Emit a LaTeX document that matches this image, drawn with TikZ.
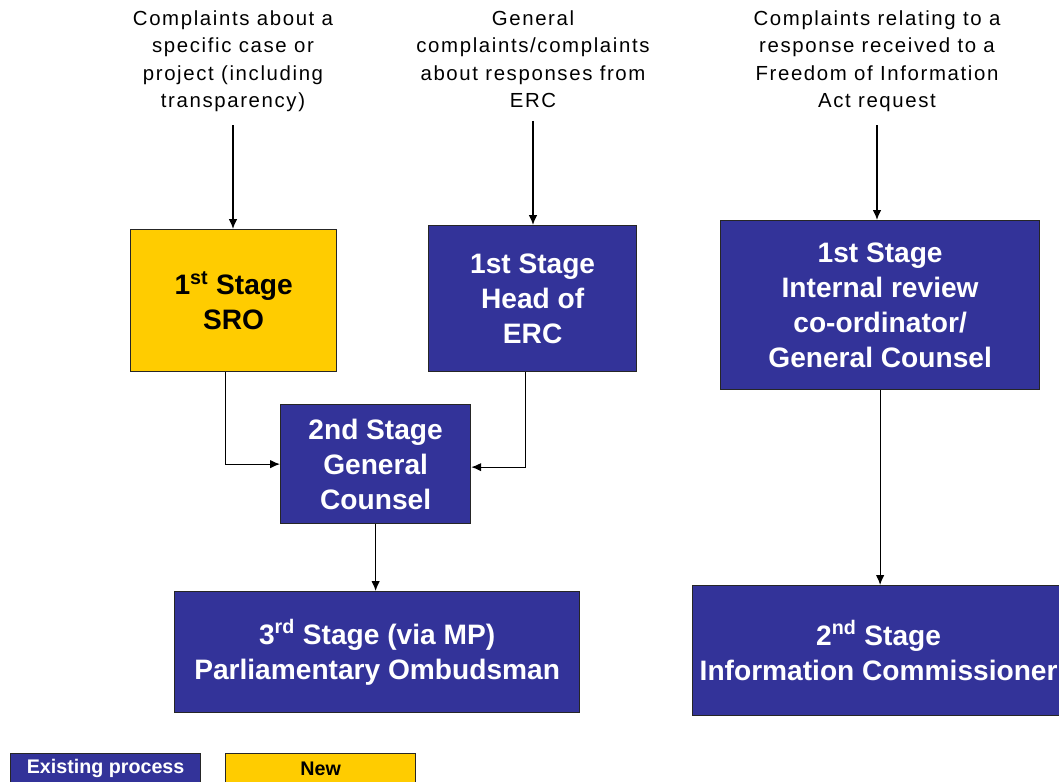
\documentclass[tikz,border=0pt]{standalone}
\usepackage{fontspec}
\setmainfont{Liberation Sans}
\newfontfamily\spacedfont[LetterSpace=8]{Liberation Sans}
\usetikzlibrary{arrows.meta}
\definecolor{stageblue}{HTML}{333399}
\definecolor{stageyellow}{HTML}{FFCC00}
\begin{document}
\begin{tikzpicture}[x=0.025cm, y=-0.025cm, >={Latex[length=7pt,width=6pt]}, line width=0.9pt]
% 1 Einheit = 1 Pixel der Vorlage
\def\u{0.025cm}
\tikzset{
  stage/.style={draw=black!85, fill=stageblue, text=white, align=center,
    font=\bfseries\fontsize{20}{25}\selectfont, anchor=north west, inner sep=0pt},
  newstage/.style={stage, fill=stageyellow, text=black},
  source/.style={font=\spacedfont\fontsize{14.5}{19.5}\selectfont, align=center, anchor=north, inner sep=2pt},
  keybox/.style={stage, font=\bfseries\fontsize{14}{15}\selectfont,
    minimum width=190*\u, minimum height=30*\u}
}
\useasboundingbox (0,0) rectangle (1059,782);
% Eingaenge
\node[source] (case) at (233,7) {Complaints about a\\specific case or\\project (including\\transparency)};
\node[source] (general) at (533,7) {General\\complaints/complaints\\about responses from\\ERC};
\node[source] (foi) at (877,7) {Complaints relating to a\\response received to a\\Freedom of Information\\Act request};
% Stufen
\node[newstage, minimum width=206*\u, minimum height=142*\u] (sro) at (130,229) {1\textsuperscript{st} Stage\\SRO};
\node[stage, minimum width=208*\u, minimum height=146*\u] (erc) at (428,225) {1st Stage\\Head of\\ERC};
\node[stage, minimum width=190*\u, minimum height=119*\u] (gc) at (280,404) {2nd Stage\\General\\Counsel};
\node[stage, minimum width=405*\u, minimum height=121*\u] (pho) at (174,591) {3\textsuperscript{rd} Stage (via MP)\\Parliamentary Ombudsman};
\node[stage, minimum width=319*\u, minimum height=169*\u] (irc) at (720,220) {1st Stage\\Internal review\\co-ordinator/\\General Counsel};
\node[stage, minimum width=372*\u, minimum height=130*\u] (ico) at (692,585) {2\textsuperscript{nd} Stage\\Information Commissioner};
% Pfeile
\draw[->, shorten <=7pt] (case.south) -- (case.south |- sro.north);
\draw[->, shorten <=7pt] (general.south) -- (general.south |- erc.north);
\draw[->, shorten <=7pt] (foi.south) -- (foi.south |- irc.north);
\draw[->] ([xshift=-8*\u]sro.south) |- (gc.west);
\draw[->] ([xshift=-7*\u]erc.south) |- ([yshift=-3*\u]gc.east);
\draw[->] (gc.south) -- (gc.south |- pho.north);
\draw[->] (irc.south) -- (irc.south |- ico.north);
% Legende
\node[keybox] (keyold) at (10,753) {Existing process};
\node[keybox, fill=stageyellow, text=black] (keynew) at (225,753) {New};
\end{tikzpicture}
\end{document}
